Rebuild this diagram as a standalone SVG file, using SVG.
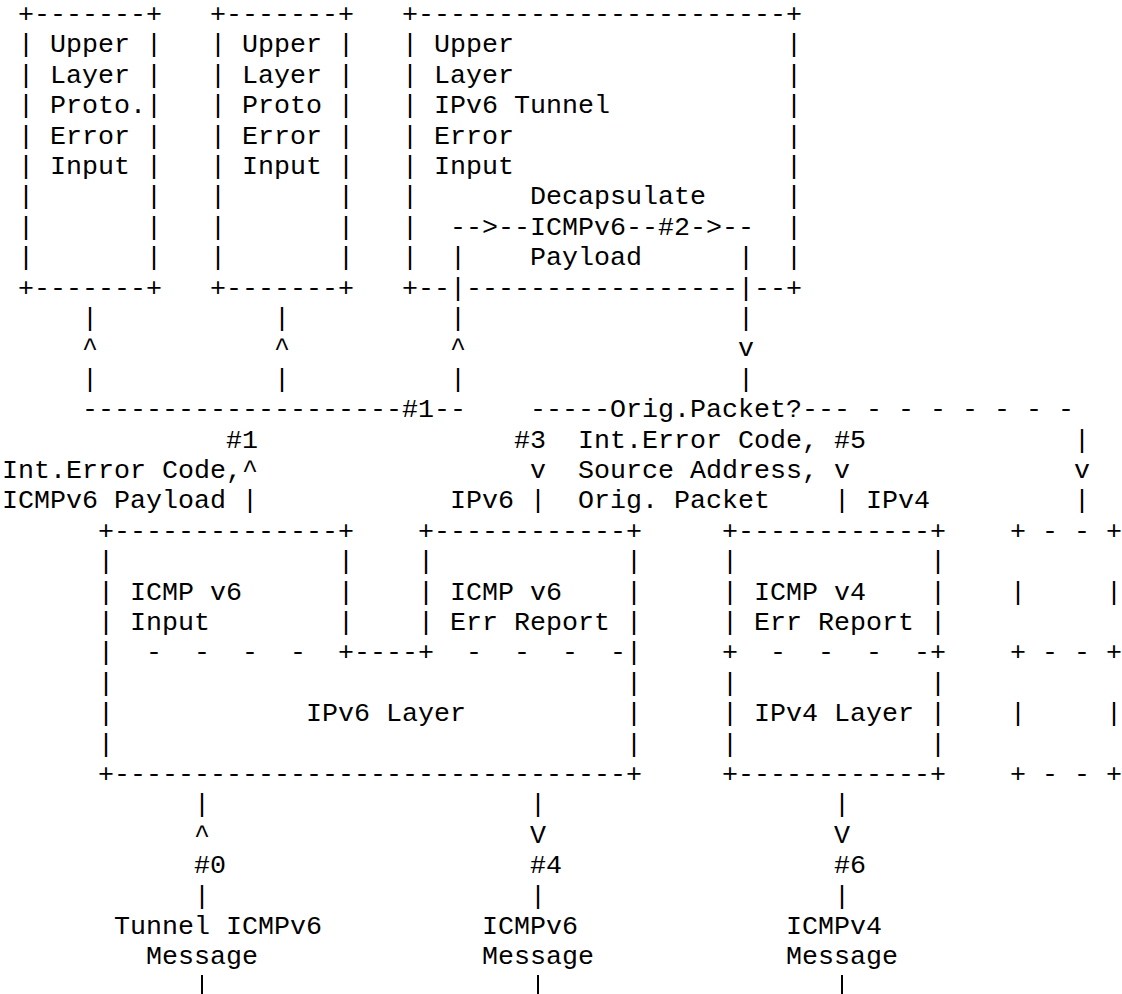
<svg xmlns="http://www.w3.org/2000/svg" width="1122" height="994" viewBox="0 0 1122 994">
<style>
.t{font-family:"Liberation Mono","Courier New",monospace;font-size:26.667px;fill:#000;white-space:pre}
.bar{stroke:#000;stroke-width:2;fill:none}
</style>
<rect width="1122" height="994" fill="#fff"/>
<g id="upper-proto-error-input-1">
<text class="t" x="18" y="22" xml:space="preserve">+-------+</text>
<text class="t" x="18" y="52.4" xml:space="preserve">| Upper |</text>
<text class="t" x="18" y="82.8" xml:space="preserve">| Layer |</text>
<text class="t" x="18" y="113.2" xml:space="preserve">| Proto.|</text>
<text class="t" x="18" y="143.6" xml:space="preserve">| Error |</text>
<text class="t" x="18" y="174" xml:space="preserve">| Input |</text>
<text class="t" x="18" y="204.4" xml:space="preserve">|       |</text>
<text class="t" x="18" y="234.8" xml:space="preserve">|       |</text>
<text class="t" x="18" y="265.2" xml:space="preserve">|       |</text>
<text class="t" x="18" y="295.6" xml:space="preserve">+-------+</text>
</g>
<g id="upper-proto-error-input-2">
<text class="t" x="210" y="22" xml:space="preserve">+-------+</text>
<text class="t" x="210" y="52.4" xml:space="preserve">| Upper |</text>
<text class="t" x="210" y="82.8" xml:space="preserve">| Layer |</text>
<text class="t" x="210" y="113.2" xml:space="preserve">| Proto |</text>
<text class="t" x="210" y="143.6" xml:space="preserve">| Error |</text>
<text class="t" x="210" y="174" xml:space="preserve">| Input |</text>
<text class="t" x="210" y="204.4" xml:space="preserve">|       |</text>
<text class="t" x="210" y="234.8" xml:space="preserve">|       |</text>
<text class="t" x="210" y="265.2" xml:space="preserve">|       |</text>
<text class="t" x="210" y="295.6" xml:space="preserve">+-------+</text>
</g>
<g id="upper-ipv6-tunnel-error-input">
<text class="t" x="402" y="22" xml:space="preserve">+-----------------------+</text>
<text class="t" x="402" y="52.4" xml:space="preserve">| Upper                 |</text>
<text class="t" x="402" y="82.8" xml:space="preserve">| Layer                 |</text>
<text class="t" x="402" y="113.2" xml:space="preserve">| IPv6 Tunnel           |</text>
<text class="t" x="402" y="143.6" xml:space="preserve">| Error                 |</text>
<text class="t" x="402" y="174" xml:space="preserve">| Input                 |</text>
<text class="t" x="402" y="204.4">|</text><text class="t" x="786" y="204.4">|</text>
<text class="t" x="402" y="234.8">|</text><text class="t" x="786" y="234.8">|</text>
<text class="t" x="402" y="265.2">|</text><text class="t" x="786" y="265.2">|</text>
<text class="t" x="402" y="295.6">+--</text>
<text class="t" x="466" y="295.6">-----------------</text>
<text class="t" x="754" y="295.6">--+</text>
</g>
<g id="icmpv6-input">
<text class="t" x="98" y="538.8" xml:space="preserve">+--------------+</text>
<text class="t" x="98" y="569.2" xml:space="preserve">|              |</text>
<text class="t" x="98" y="599.6" xml:space="preserve">| ICMP v6      |</text>
<text class="t" x="98" y="630" xml:space="preserve">| Input        |</text>
<text class="t" x="98" y="660.4" xml:space="preserve">|  -  -  -  -  +</text>
</g>
<g id="icmpv6-err-report">
<text class="t" x="418" y="538.8" xml:space="preserve">+------------+</text>
<text class="t" x="418" y="569.2" xml:space="preserve">|            |</text>
<text class="t" x="418" y="599.6" xml:space="preserve">| ICMP v6    |</text>
<text class="t" x="418" y="630" xml:space="preserve">| Err Report |</text>
<text class="t" x="418" y="660.4" xml:space="preserve">+  -  -  -  -|</text>
</g>
<g id="ipv6-layer">
<text class="t" x="354" y="660.4">----</text>
<text class="t" x="98" y="690.8" xml:space="preserve">|                                |</text>
<text class="t" x="98" y="721.2" xml:space="preserve">|            IPv6 Layer          |</text>
<text class="t" x="98" y="751.6" xml:space="preserve">|                                |</text>
<text class="t" x="98" y="782" xml:space="preserve">+--------------------------------+</text>
</g>
<g id="icmpv4-err-report">
<text class="t" x="722" y="538.8" xml:space="preserve">+------------+</text>
<text class="t" x="722" y="569.2" xml:space="preserve">|            |</text>
<text class="t" x="722" y="599.6" xml:space="preserve">| ICMP v4    |</text>
<text class="t" x="722" y="630" xml:space="preserve">| Err Report |</text>
<text class="t" x="722" y="660.4" xml:space="preserve">+  -  -  -  -+</text>
</g>
<g id="ipv4-layer">
<text class="t" x="722" y="690.8" xml:space="preserve">|            |</text>
<text class="t" x="722" y="721.2" xml:space="preserve">| IPv4 Layer |</text>
<text class="t" x="722" y="751.6" xml:space="preserve">|            |</text>
<text class="t" x="722" y="782" xml:space="preserve">+------------+</text>
</g>
<g id="other-layer-dashed">
<text class="t" x="1010" y="538.8" xml:space="preserve">+ - - +</text>
<text class="t" x="1010" y="599.6" xml:space="preserve">|     |</text>
<text class="t" x="1010" y="660.4" xml:space="preserve">+ - - +</text>
<text class="t" x="1010" y="721.2" xml:space="preserve">|     |</text>
<text class="t" x="1010" y="782" xml:space="preserve">+ - - +</text>
</g>
<g id="connectors">
<text class="t" x="530" y="204.4">Decapsulate</text>
<text class="t" x="450" y="234.8">--&gt;--ICMPv6--#2-&gt;--</text>
<text class="t" x="450" y="265.2">|</text>
<text class="t" x="530" y="265.2">Payload</text>
<text class="t" x="738" y="265.2">|</text>
<text class="t" x="450" y="295.6">|</text>
<text class="t" x="738" y="295.6">|</text>
<text class="t" x="82" y="326">|</text><text class="t" x="82" y="356.4">^</text><text class="t" x="82" y="386.8">|</text>
<text class="t" x="274" y="326">|</text><text class="t" x="274" y="356.4">^</text><text class="t" x="274" y="386.8">|</text>
<text class="t" x="450" y="326">|</text><text class="t" x="450" y="356.4">^</text><text class="t" x="450" y="386.8">|</text>
<text class="t" x="738" y="326">|</text><text class="t" x="738" y="356.4">v</text><text class="t" x="738" y="386.8">|</text>
<text class="t" x="82" y="417.2">--------------------#1--</text>
<text class="t" x="530" y="417.2" xml:space="preserve">-----Orig.Packet?--- - - - - - - -</text>
<text class="t" x="226" y="447.6">#1</text>
<text class="t" x="514" y="447.6">#3</text>
<text class="t" x="578" y="447.6" xml:space="preserve">Int.Error Code, #5</text>
<text class="t" x="1074" y="447.6">|</text>
<text class="t" x="2" y="478" xml:space="preserve">Int.Error Code,^</text>
<text class="t" x="530" y="478">v</text>
<text class="t" x="578" y="478" xml:space="preserve">Source Address, v</text>
<text class="t" x="1074" y="478">v</text>
<text class="t" x="2" y="508.4" xml:space="preserve">ICMPv6 Payload |</text>
<text class="t" x="450" y="508.4" xml:space="preserve">IPv6 |</text>
<text class="t" x="578" y="508.4" xml:space="preserve">Orig. Packet</text>
<text class="t" x="834" y="508.4" xml:space="preserve">| IPv4</text>
<text class="t" x="1074" y="508.4">|</text>
<text class="t" x="194" y="812.4">|</text><text class="t" x="194" y="842.8">^</text><text class="t" x="194" y="873.2">#0</text><text class="t" x="194" y="903.6">|</text>
<text class="t" x="530" y="812.4">|</text><text class="t" x="530" y="842.8">V</text><text class="t" x="530" y="873.2">#4</text><text class="t" x="530" y="903.6">|</text>
<text class="t" x="834" y="812.4">|</text><text class="t" x="834" y="842.8">V</text><text class="t" x="834" y="873.2">#6</text><text class="t" x="834" y="903.6">|</text>
<text class="t" x="114" y="934" xml:space="preserve">Tunnel ICMPv6</text>
<text class="t" x="482" y="934">ICMPv6</text>
<text class="t" x="786" y="934">ICMPv4</text>
<text class="t" x="146" y="964.4">Message</text>
<text class="t" x="482" y="964.4">Message</text>
<text class="t" x="786" y="964.4">Message</text>
<line class="bar" x1="202" y1="975" x2="202" y2="994"/>
<line class="bar" x1="538" y1="975" x2="538" y2="994"/>
<line class="bar" x1="842" y1="975" x2="842" y2="994"/>
</g>
</svg>
